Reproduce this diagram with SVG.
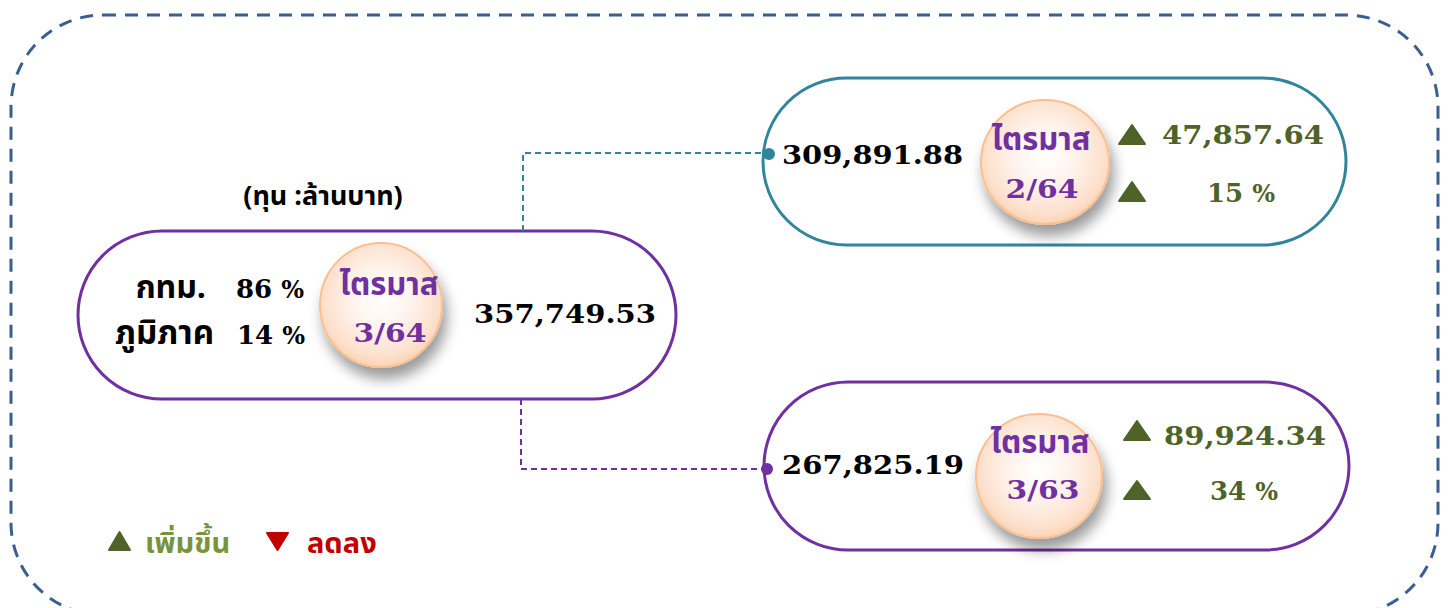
<svg xmlns="http://www.w3.org/2000/svg" width="1450" height="608" viewBox="0 0 1450 608">
<defs>
<radialGradient id="orb" cx="0.5" cy="0.45" r="0.55">
<stop offset="0" stop-color="#ffffff"/>
<stop offset="0.45" stop-color="#fef3ec"/>
<stop offset="0.85" stop-color="#fde0cc"/>
<stop offset="1" stop-color="#fbd3b6"/>
</radialGradient>
<filter id="sh" x="-40%" y="-40%" width="180%" height="190%">
<feGaussianBlur in="SourceAlpha" stdDeviation="7"/>
<feOffset dx="4" dy="11" result="b"/>
<feComponentTransfer><feFuncA type="linear" slope="0.4"/></feComponentTransfer>
<feMerge><feMergeNode/><feMergeNode in="SourceGraphic"/></feMerge>
</filter>
</defs>
<style>
.pill{fill:#fff;stroke-width:3}
.orb{fill:url(#orb);stroke:#FAC090;stroke-width:2;filter:url(#sh)}
.num{font-family:"DejaVu Serif","Liberation Serif",serif;font-weight:bold;font-size:26px;fill:#000}
.grn{font-family:"DejaVu Serif","Liberation Serif",serif;font-weight:bold;font-size:26px;fill:#4F6228}
.th{font-family:"Noto Sans Thai","Noto Sans","DejaVu Sans",sans-serif;font-weight:bold;fill:#000}
.tq{font-family:"Noto Sans Thai","Noto Sans","DejaVu Sans",sans-serif;font-weight:bold;font-size:31px;fill:#7030A0;text-anchor:middle}
.qn{font-family:"DejaVu Serif","Liberation Serif",serif;font-weight:bold;font-size:26px;fill:#7030A0;text-anchor:middle}
.tri{fill:#4F6228;stroke:#4F6228;stroke-width:2;stroke-linejoin:round}
</style>
<rect x="11" y="15" width="1427" height="600" rx="92" fill="none" stroke="#3A5F8F" stroke-width="3" stroke-dasharray="13 9"/>
<text class="th" x="323" y="205" font-size="27" text-anchor="middle">(ทุน :ล้านบาท)</text>
<g id="main">
<rect class="pill" x="78" y="231" width="598" height="168" rx="84" stroke="#7030A0"/>
<ellipse class="orb" cx="381" cy="305" rx="61" ry="62"/>
<text class="th" x="206" y="298" font-size="32" text-anchor="end">กทม.</text>
<text class="num" x="236" y="298" font-size="25">86 <tspan font-size="24">%</tspan></text>
<text class="th" x="214" y="344" font-size="33" text-anchor="end">ภูมิภาค</text>
<text class="num" x="237" y="344" font-size="25">14 <tspan font-size="24">%</tspan></text>
<text class="tq" x="389" y="295">ไตรมาส</text>
<text class="qn" x="390" y="342" textLength="73" lengthAdjust="spacingAndGlyphs">3/64</text>
<text class="num" x="474" y="323" textLength="182" lengthAdjust="spacingAndGlyphs">357,749.53</text>
</g>
<g id="q2-64">
<rect class="pill" x="763" y="78" width="583" height="167" rx="83.5" stroke="#31849B"/>
<ellipse class="orb" cx="1045" cy="162" rx="64" ry="62"/>
<text class="num" x="782" y="164" textLength="181" lengthAdjust="spacingAndGlyphs">309,891.88</text>
<text class="tq" x="1041" y="150">ไตรมาส</text>
<text class="qn" x="1042" y="198" textLength="73" lengthAdjust="spacingAndGlyphs">2/64</text>
<path class="tri" d="M1132 125 L1145 144 H1119 Z"/>
<text class="grn" x="1162" y="144" textLength="162" lengthAdjust="spacingAndGlyphs">47,857.64</text>
<path class="tri" d="M1132 182 L1145 201 H1119 Z"/>
<text class="grn" x="1207" y="202" font-size="25">15 <tspan font-size="24">%</tspan></text>
</g>
<g id="q3-63">
<rect class="pill" x="764" y="382" width="585" height="168" rx="84" stroke="#7030A0"/>
<ellipse class="orb" cx="1039" cy="476" rx="63" ry="62"/>
<text class="num" x="782" y="474" textLength="182" lengthAdjust="spacingAndGlyphs">267,825.19</text>
<text class="tq" x="1040" y="453">ไตรมาส</text>
<text class="qn" x="1043" y="499" textLength="73" lengthAdjust="spacingAndGlyphs">3/63</text>
<path class="tri" d="M1137 421 L1150 440 H1124 Z"/>
<text class="grn" x="1164" y="445" textLength="162" lengthAdjust="spacingAndGlyphs">89,924.34</text>
<path class="tri" d="M1137 481 L1150 499 H1124 Z"/>
<text class="grn" x="1210" y="500" font-size="25">34 <tspan font-size="24">%</tspan></text>
</g>
<g id="connectors" fill="none" stroke-width="2" stroke-dasharray="6 4">
<path d="M523 231 V153 H769" stroke="#31849B"/>
<path d="M521 399 V469 H767" stroke="#7030A0"/>
<circle cx="769" cy="154" r="6" fill="#31849B" stroke="none"/>
<circle cx="767" cy="469" r="6" fill="#7030A0" stroke="none"/>
</g>
<g id="legend">
<path class="tri" d="M119.5 532 L130 550 H109 Z"/>
<text x="145" y="553" font-family="'Noto Sans Thai','Noto Sans','DejaVu Sans',sans-serif" font-weight="bold" font-size="29" fill="#77933C">เพิ่มขึ้น</text>
<path d="M267 533 H288 L277.5 550 Z" fill="#C00000" stroke="#C00000" stroke-width="2" stroke-linejoin="round"/>
<text x="307" y="553" font-family="'Noto Sans Thai','Noto Sans','DejaVu Sans',sans-serif" font-weight="bold" font-size="29" fill="#C00000">ลดลง</text>
</g>
</svg>
